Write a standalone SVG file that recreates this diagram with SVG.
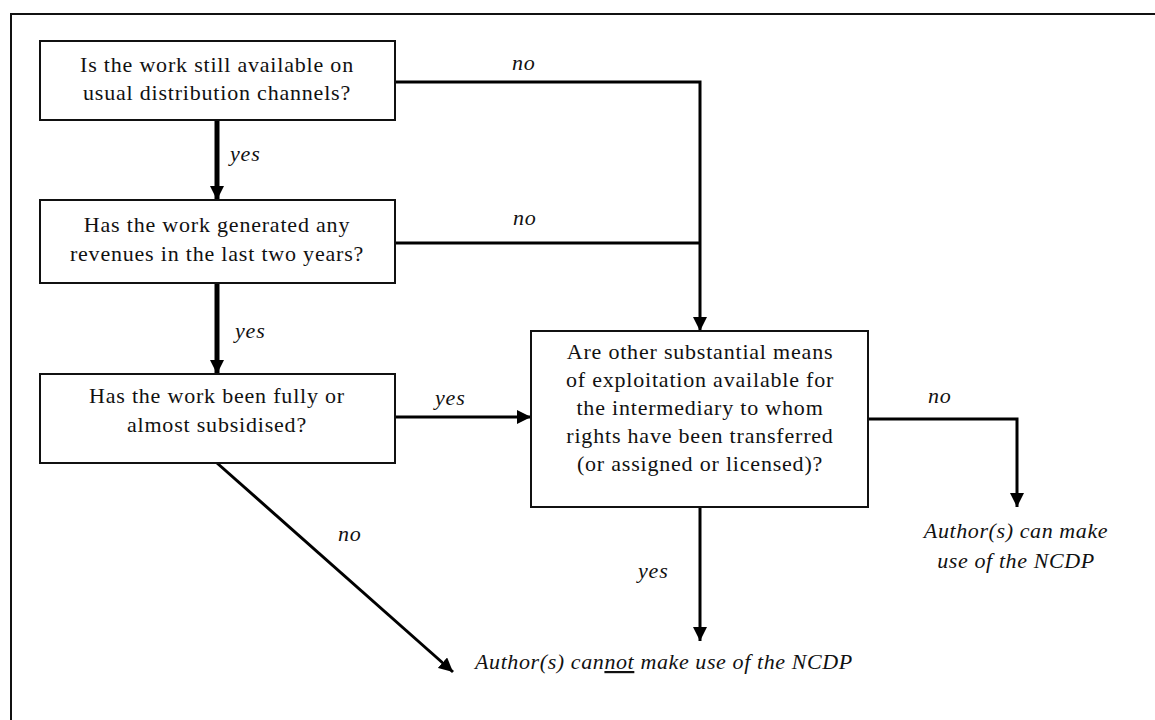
<svg xmlns="http://www.w3.org/2000/svg" width="1155" height="720" viewBox="0 0 1155 720">
<style>
.box{fill:#fff;stroke:#111;stroke-width:2}
.t{font-family:"Liberation Serif","Times New Roman",serif;font-size:22px;letter-spacing:0.8px;fill:#111;text-anchor:middle}
.lbl{font-family:"Liberation Serif","Times New Roman",serif;font-size:22px;font-style:italic;letter-spacing:0.8px;fill:#111}
.res{font-family:"Liberation Serif","Times New Roman",serif;font-size:22px;font-style:italic;letter-spacing:0.6px;fill:#111}
.c{fill:none;stroke:#000;stroke-width:3}
.ck{fill:none;stroke:#000;stroke-width:5}
</style>
<defs>
<marker id="ah" viewBox="0 0 10 10" refX="10" refY="5" markerWidth="14" markerHeight="14" markerUnits="userSpaceOnUse" orient="auto">
<path d="M0,0 L10,5 L0,10 Z" fill="#000"/>
</marker>
</defs>
<rect width="1155" height="720" fill="#fff"/>
<g id="frame">
<path d="M11,720 V14 H1155" fill="none" stroke="#111" stroke-width="2"/>
</g>
<g id="connectors">
<line class="ck" x1="217" y1="120" x2="217" y2="200" marker-end="url(#ah)"/>
<line class="ck" x1="217" y1="284" x2="217" y2="374" marker-end="url(#ah)"/>
<polyline class="c" points="395,82 700,82 700,331" marker-end="url(#ah)"/>
<line class="c" x1="395" y1="243" x2="700" y2="243"/>
<line class="c" x1="395" y1="417" x2="531" y2="417" marker-end="url(#ah)"/>
<polyline class="c" points="868,419 1017,419 1017,507" marker-end="url(#ah)"/>
<line class="c" x1="700" y1="507" x2="700" y2="641" marker-end="url(#ah)"/>
<line class="c" x1="217" y1="463" x2="453" y2="672" marker-end="url(#ah)"/>
<text class="lbl" x="230" y="161">yes</text>
<text class="lbl" x="235" y="338">yes</text>
<text class="lbl" x="512" y="70">no</text>
<text class="lbl" x="513" y="225">no</text>
<text class="lbl" x="435" y="405">yes</text>
<text class="lbl" x="928" y="403">no</text>
<text class="lbl" x="638" y="578">yes</text>
<text class="lbl" x="338" y="541">no</text>
</g>
<g id="q1">
<rect class="box" x="40" y="41" width="355" height="79"/>
<text class="t" x="217" y="72">Is the work still available on</text>
<text class="t" x="217" y="100">usual distribution channels?</text>
</g>
<g id="q2">
<rect class="box" x="40" y="200" width="355" height="83"/>
<text class="t" x="217" y="232">Has the work generated any</text>
<text class="t" x="217" y="261">revenues in the last two years?</text>
</g>
<g id="q3">
<rect class="box" x="40" y="374" width="355" height="89"/>
<text class="t" x="217" y="403">Has the work been fully or</text>
<text class="t" x="217" y="432">almost subsidised?</text>
</g>
<g id="q4">
<rect class="box" x="531" y="331" width="337" height="176"/>
<text class="t" x="700" y="359">Are other substantial means</text>
<text class="t" x="700" y="387">of exploitation available for</text>
<text class="t" x="700" y="415">the intermediary to whom</text>
<text class="t" x="700" y="443">rights have been transferred</text>
<text class="t" x="700" y="471">(or assigned or licensed)?</text>
</g>
<g id="can">
<text class="res" x="1016" y="538" text-anchor="middle">Author(s) can make</text>
<text class="res" x="1016" y="568" text-anchor="middle">use of the NCDP</text>
</g>
<g id="cannot">
<text class="res" x="475" y="669">Author(s) can<tspan text-decoration="underline">not</tspan> make use of the NCDP</text>
</g>
</svg>
